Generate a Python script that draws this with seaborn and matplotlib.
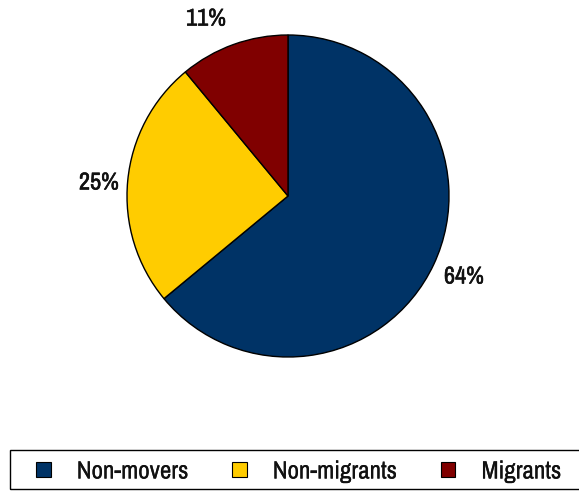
import matplotlib
matplotlib.use("Agg")
import matplotlib.pyplot as plt
import matplotlib.patheffects as pe
from matplotlib.patches import Patch, Rectangle
import seaborn as sns

categories = ["Non-movers", "Non-migrants", "Migrants"]
shares = [64, 25, 11]
colors = ["#003366", "#FFCC00", "#800000"]

sns.set_theme(style="white")
plt.rcParams["font.family"] = ["Archivo Narrow", "DejaVu Sans"]

W, H = 579, 491
fig = plt.figure(figsize=(W / 100, H / 100), dpi=100)
cx, cy, r = 288, 196, 161
ax = fig.add_axes([(cx - r) / W, (H - cy - r) / H, 2 * r / W, 2 * r / H])

ax.pie(
    shares, colors=colors, startangle=90, counterclock=False,
    wedgeprops=dict(edgecolor="black", linewidth=1.0), radius=1.0,
)
ax.set_xlim(-1, 1)
ax.set_ylim(-1, 1)
ax.set_aspect("equal")
ax.axis("off")

# percentage labels just outside each wedge, slightly heavier strokes
heavy = [pe.withStroke(linewidth=0.4, foreground="#111111")]
label_pos = [(1.093, -0.503), (-1.174, 0.081), (-0.509, 1.099)]
for val, (x, y) in zip(shares, label_pos):
    ax.text(x, y, f"{val}%", ha="center", va="center", fontsize=17.5,
            color="#111111", clip_on=False, path_effects=heavy)

# legend frame running off the right edge
fig.patches.append(Rectangle((10 / W, 2 / H), 600 / W, 39 / H,
                             transform=fig.transFigure, facecolor="none",
                             edgecolor="black", linewidth=1.0))

handles = [Patch(facecolor=c, edgecolor="black", linewidth=0.8) for c in colors]
leg = fig.legend(
    handles, categories, ncol=3, loc="center left",
    bbox_to_anchor=(36 / W, (H - 471) / H),
    frameon=False, fontsize=18, labelcolor="#111111",
    handlelength=0.58, handleheight=0.58, handletextpad=1.05,
    columnspacing=1.75, borderaxespad=0, borderpad=0,
)
for t in leg.get_texts():
    t.set_path_effects([pe.withStroke(linewidth=0.12, foreground="#111111")])

fig.savefig("out.png", dpi=100)
